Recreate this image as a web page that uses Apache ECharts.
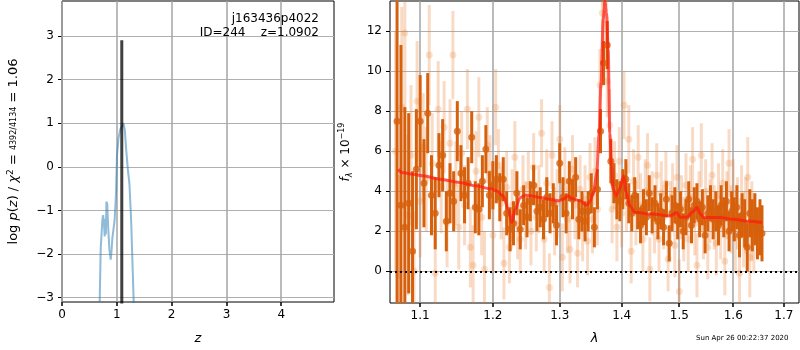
<!DOCTYPE html>
<html>
<head>
<meta charset="utf-8">
<script src="https://cdn.jsdelivr.net/npm/echarts@6.0.0/dist/echarts.min.js"></script>
<style>html,body{margin:0;padding:0;background:#fff}#main{width:800px;height:350px}</style>
</head>
<body>
<div id="main"></div>
<script>
// left panel: redshift probability
var pzZ = [0.687,0.706,0.736,0.750,0.765,0.778,0.790,0.800,0.810,0.825,
           0.840,0.865,0.888,0.905,0.918,0.960,0.985,1.003,1.030,1.060,
           1.100,1.120,1.145,1.170,1.200,1.230,1.260,1.285,1.307,1.320];
var pzLog = [-3.1,-1.87,-1.22,-1.11,-1.3,-1.6,-1.2,-1.55,-0.8,-0.85,
             -1.34,-1.9,-2.13,-1.9,-1.64,-1.22,-0.6,0.26,0.65,0.85,
             0.95,1.0,0.85,0.4,-0.05,-0.4,-1.2,-2.2,-3.08,-3.5];
var zBest = 1.0902;
var zMarkTop = 2.9;
var zTicks = [0, 1, 2, 3, 4];
var pzTicks = [-3, -2, -1, 0, 1, 2, 3];

// right panel: spectrum, dark beam
var darkWave = [1.070,1.075,1.080,1.085,1.090,1.095,1.100,1.105,1.110,1.115,
                1.120,1.125,1.130,1.135,1.140,1.145,1.150,1.155,1.160,1.165,
                1.170,1.175,1.180,1.185,1.190,1.195,1.200,1.205,1.210,1.215,
                1.220,1.225,1.230,1.235,1.240,1.245,1.250,1.255,1.260,1.265,
                1.270,1.275,1.280,1.285,1.290,1.295,1.300,1.305,1.310,1.315,
                1.320,1.325,1.330,1.335,1.340,1.345,1.350,1.355,1.360,1.365,
                1.370,1.376,1.382,1.387,1.392,1.397,1.402,1.407,1.412,1.417,
                1.422,1.427,1.432,1.437,1.442,1.447,1.452,1.457,1.462,1.467,
                1.472,1.477,1.482,1.487,1.492,1.497,1.502,1.507,1.512,1.517,
                1.522,1.527,1.532,1.537,1.542,1.547,1.552,1.557,1.562,1.567,
                1.572,1.577,1.582,1.587,1.592,1.597,1.602,1.607,1.612,1.617,
                1.622,1.627,1.632,1.637,1.642,1.647,1.652,1.656];
var darkFlux = [7.5,3.3,2.2,3.4,1.0,5.1,7.5,4.4,7.9,3.8,
                2.9,5.3,5.8,2.5,3.9,3.5,7.0,4.9,3.8,4.4,
                6.7,3.2,3.1,4.5,6.1,3.8,4.3,4.6,3.7,4.6,
                2.9,2.1,2.4,3.9,2.1,3.3,2.7,3.5,4.3,3.0,
                3.2,2.6,3.7,2.9,3.4,2.3,5.4,3.7,2.9,4.5,
                3.6,4.7,2.6,3.0,2.5,3.0,3.9,2.2,4.1,7.0,
                10.4,11.3,5.5,4.4,3.6,3.5,4.1,4.6,3.4,2.9,
                3.8,3.0,2.3,3.2,2.7,3.9,2.8,3.4,2.5,3.0,
                2.2,3.6,1.4,2.9,3.3,2.5,3.1,2.0,2.7,3.6,
                2.3,3.3,3.5,2.6,3.2,1.8,2.9,3.4,2.6,3.0,
                2.3,3.3,2.7,3.5,2.0,3.0,2.6,3.2,1.8,2.8,
                2.4,1.2,2.9,2.3,2.6,1.9,2.2,1.9];
var darkErr = [10,8,6,4.5,4,3,2.3,2.2,2,2,
               1.8,1.6,1.8,1.5,1.5,1.5,1.5,1.4,1.4,1.3,
               1.3,1.3,1.3,1.3,1.2,1.2,1.2,1.2,1.2,1.1,
               1.1,1.1,1.1,1.1,1.0,1.0,1.0,1.0,1.0,1.0,
               1.0,1.0,1.0,1.0,1.0,1.0,1.0,1.0,1.0,1.0,
               1.0,1.0,1.0,1.0,1.0,1.0,1.0,1.0,1.0,1.1,
               1.1,1.2,1.1,1.0,1.0,1.0,1.0,1.0,1.0,0.9,
               0.9,0.9,0.9,0.9,0.9,0.9,0.9,0.9,0.9,0.9,
               0.9,0.9,0.9,0.9,0.9,0.9,0.9,0.9,0.9,0.9,
               0.9,0.9,0.9,0.9,0.9,0.9,0.9,0.9,1.0,1.0,
               1.0,1.0,1.0,1.0,1.0,1.0,1.1,1.1,1.1,1.1,
               1.2,1.2,1.2,1.3,1.3,1.3,1.4,1.4];

// right panel: spectrum, light beam
var lightWave = [1.068,1.072,1.076,1.080,1.084,1.088,1.092,1.096,1.100,1.104,
                 1.108,1.112,1.116,1.120,1.124,1.128,1.132,1.136,1.140,1.144,
                 1.148,1.152,1.156,1.160,1.164,1.168,1.172,1.176,1.180,1.184,
                 1.188,1.192,1.196,1.200,1.204,1.208,1.212,1.216,1.220,1.224,
                 1.228,1.232,1.236,1.240,1.244,1.248,1.252,1.256,1.260,1.264,
                 1.268,1.272,1.276,1.280,1.284,1.288,1.292,1.296,1.300,1.304,
                 1.308,1.312,1.316,1.320,1.324,1.328,1.332,1.336,1.340,1.344,
                 1.348,1.352,1.356,1.360,1.364,1.368,1.372,1.376,1.380,1.384,
                 1.388,1.392,1.396,1.400,1.404,1.408,1.412,1.416,1.420,1.424,
                 1.428,1.432,1.436,1.440,1.444,1.448,1.452,1.456,1.460,1.464,
                 1.468,1.472,1.476,1.480,1.484,1.488,1.492,1.496,1.500,1.504,
                 1.508,1.512,1.516,1.520,1.524,1.528,1.532,1.536,1.540,1.544,
                 1.548,1.552,1.556,1.560,1.564,1.568,1.572,1.576,1.580,1.584,
                 1.588,1.592,1.596,1.600,1.604,1.608,1.612,1.616,1.620,1.624,
                 1.628,1.632,1.636,1.640];
var lightFlux = [6.0,-0.2,8.2,11.9,2.8,5.8,0.0,8.5,3.5,6.2,
                 4.6,10.8,5.4,-0.1,8.1,4.2,7.2,2.4,6.4,10.8,
                 4.4,2.2,5.9,3.3,8.1,1.2,0.3,5.0,7.7,2.7,
                 0.1,6.3,4.9,1.8,8.2,5.3,3.4,0.4,4.2,1.2,
                 3.3,5.7,2.3,1.6,4.1,2.8,4.3,2.0,5.2,2.7,
                 3.6,6.9,1.6,4.4,-0.8,5.8,2.5,3.4,6.6,0.7,
                 4.5,2.6,1.1,5.1,3.3,0.9,4.1,2.2,3.6,1.5,
                 4.7,2.6,5.0,3.1,9.3,12.9,13.4,9.5,7.3,3.1,
                 4.8,2.2,5.5,2.9,8.3,3.7,6.6,1.0,4.5,2.9,
                 5.7,3.3,1.6,4.0,5.3,0.1,3.4,2.5,4.8,1.6,
                 3.9,2.7,4.4,0.6,2.9,3.8,1.3,4.7,-1.0,3.2,
                 2.1,4.3,1.6,3.7,5.6,2.4,0.3,3.4,5.8,2.2,
                 4.0,1.2,3.0,4.8,2.7,1.4,3.8,2.2,4.4,0.5,
                 3.3,5.4,2.6,3.9,1.7,2.9,-0.1,3.5,2.1,2.8,
                 4.7,0.7,2.5,1.9];
var lightErr = [6,5,5,4,4,3.5,3,3,2.8,2.7,
                2.6,2.5,2.5,2.4,2.4,2.3,2.3,2.2,2.2,2.2,
                2.1,2.1,2.1,2.0,2.0,2.0,2.0,2.0,2.0,1.9,
                1.9,1.9,1.9,1.9,1.9,1.8,1.8,1.8,1.8,1.8,
                1.8,1.8,1.7,1.7,1.7,1.7,1.7,1.7,1.7,1.7,
                1.7,1.7,1.7,1.7,1.7,1.7,1.7,1.7,1.7,1.7,
                1.7,1.7,1.7,1.7,1.7,1.7,1.7,1.7,1.7,1.7,
                1.7,1.7,1.7,1.8,1.8,1.9,1.9,1.8,1.8,1.7,
                1.7,1.7,1.7,1.7,1.7,1.7,1.7,1.6,1.6,1.6,
                1.6,1.6,1.6,1.6,1.6,1.6,1.6,1.6,1.6,1.6,
                1.6,1.6,1.6,1.6,1.6,1.6,1.6,1.6,1.6,1.6,
                1.6,1.6,1.6,1.6,1.6,1.6,1.6,1.6,1.6,1.6,
                1.6,1.6,1.6,1.6,1.6,1.6,1.6,1.6,1.7,1.7,
                1.7,1.7,1.7,1.7,1.8,1.8,1.8,1.8,1.9,1.9,
                2.0,2.0,2.0,2.0];

// best-fit model
var modelWave = [1.0715,1.076,1.090,1.1036,1.1266,1.1537,1.1748,1.1978,1.205,1.215,
                 1.2225,1.2276,1.2325,1.240,1.2475,1.255,1.270,1.285,1.2975,1.3053,
                 1.3133,1.3188,1.3321,1.3429,1.3480,1.3535,1.3589,1.3626,1.3658,1.3695,
                 1.3722,1.3750,1.3775,1.3803,1.3830,1.3856,1.3910,1.3963,1.4035,1.4077,
                 1.4135,1.4223,1.4516,1.4837,1.4954,1.5012,1.5136,1.5259,1.5322,1.5383,
                 1.5444,1.5753,1.60,1.63,1.656];
var modelFlux = [5.1,4.94,4.85,4.77,4.6,4.44,4.27,4.12,4.02,3.77,
                 3.1,2.44,3.1,3.69,3.8,3.77,3.69,3.6,3.52,3.6,
                 3.77,3.64,3.52,3.3,3.5,3.94,4.9,6.9,9.4,12.6,
                 13.5,12.9,11.1,6.9,5.27,4.1,3.77,4.1,4.77,3.94,
                 3.27,2.95,2.86,2.77,2.94,2.7,2.7,3.0,3.2,2.86,
                 2.69,2.69,2.6,2.5,2.44];
var lamTicks = [1.1, 1.2, 1.3, 1.4, 1.5, 1.6, 1.7];
var fluxTicks = [0, 2, 4, 6, 8, 10, 12];

var FONT = 'DejaVu Sans';
var DARK = 'rgb(214,96,12)';
var LIGHT = 'rgba(232,125,45,0.28)';
var GRID_GRAY = '#b0b0b0';

function zip3(a, b, c) {
    return a.map(function (v, i) { return [v, b[i], c[i]]; });
}
function zip2(a, b) {
    return a.map(function (v, i) { return [v, b[i]]; });
}
function minusFmt(v) {
    return (v < 0 ? '\u2212' : '') + Math.abs(v);
}
function errorBar(color, width) {
    return function (params, api) {
        var x = api.value(0), y = api.value(1), e = api.value(2);
        var lo = api.coord([x, y - e]);
        var hi = api.coord([x, y + e]);
        return {
            type: 'line',
            shape: { x1: lo[0], y1: lo[1], x2: hi[0], y2: hi[1] },
            style: { stroke: color, lineWidth: width }
        };
    };
}
// vertical grid line plus outward tick at each x tick value
// (slightly wider than 1px, like matplotlib's antialiased grid)
function xGridItem(params, api) {
    var cs = params.coordSys;
    var px = Math.round(api.coord([api.value(0), api.value(1)])[0]);
    var bottom = cs.y + cs.height;
    return {
        type: 'group',
        children: [
            { type: 'line', shape: { x1: px, y1: cs.y, x2: px, y2: bottom }, style: { stroke: '#a4a4a4', lineWidth: 1.5 } },
            { type: 'line', shape: { x1: px, y1: bottom, x2: px, y2: bottom + 4 }, style: { stroke: '#000', lineWidth: 1.5 } }
        ]
    };
}
function xGrid(i, values, yRef) {
    return {
        name: 'xgrid' + i, type: 'custom', xAxisIndex: i, yAxisIndex: i, silent: true,
        data: values.map(function (v) { return [v, yRef]; }),
        encode: { x: 0, y: 1 }, renderItem: xGridItem, clip: false, z: 1
    };
}
function gridLine() {
    return { show: true, lineStyle: { color: GRID_GRAY, width: 1 } };
}
function tickStyle(values) {
    return { show: true, inside: false, length: 4, customValues: values, lineStyle: { color: '#000', width: 1 } };
}
function labelStyle(values, margin, fmt) {
    return { customValues: values, margin: margin, formatter: fmt, color: '#000', fontFamily: FONT, fontSize: 12 };
}

var myChart = echarts.init(document.getElementById('main'));

var option = {
    animation: false,
    backgroundColor: '#fff',
    grid: [
        { left: 62, top: 1, width: 272, height: 303, show: true, borderColor: '#000', borderWidth: 1, backgroundColor: 'transparent' },
        { left: 390, top: 1, width: 409, height: 303, show: true, borderColor: '#000', borderWidth: 1, backgroundColor: 'transparent' }
    ],
    xAxis: [
        {
            type: 'value', gridIndex: 0, min: 0, max: 4.96, position: 'bottom',
            name: 'z', nameLocation: 'middle', nameGap: 30,
            nameTextStyle: { fontFamily: FONT, fontSize: 13, fontStyle: 'italic', color: '#000' },
            axisLine: { show: false, onZero: false },
            axisTick: { show: false },
            axisLabel: labelStyle(zTicks, 7, minusFmt),
            splitLine: { show: false }
        },
        {
            type: 'log', logBase: 10, gridIndex: 1, min: 1.061, max: 1.731, position: 'bottom',
            name: 'λ', nameLocation: 'middle', nameGap: 29,
            nameTextStyle: { fontFamily: FONT, fontSize: 13, fontStyle: 'italic', color: '#000' },
            axisLine: { show: false, onZero: false },
            axisTick: { show: false },
            axisLabel: labelStyle(lamTicks, 7, function (v) { return v.toFixed(1); }),
            splitLine: { show: false },
            minorTick: { show: false },
            minorSplitLine: { show: false }
        }
    ],
    yAxis: [
        {
            type: 'value', gridIndex: 0, min: -3.1, max: 3.8, position: 'left',
            name: 'log {i|p}({i|z}) / {i|χ}{sup|2} = {fr|4392/4134} = 1.06',
            nameLocation: 'middle', nameGap: 40,
            nameTextStyle: {
                fontFamily: FONT, fontSize: 13, color: '#000', lineHeight: 16,
                rich: {
                    i: { fontFamily: FONT, fontSize: 13, fontStyle: 'italic', color: '#000' },
                    sup: { fontFamily: FONT, fontSize: 9, color: '#000', verticalAlign: 'top', lineHeight: 16 },
                    fr: { fontFamily: FONT, fontSize: 8, color: '#000' }
                }
            },
            axisLine: { show: false, onZero: false },
            axisTick: tickStyle(pzTicks),
            axisLabel: labelStyle(pzTicks, 8, minusFmt),
            splitLine: gridLine()
        },
        {
            type: 'value', gridIndex: 1, min: -1.58, max: 13.5, position: 'left',
            name: '{i|f}{sub|λ} × 10{sup|\u221219}',
            nameLocation: 'middle', nameGap: 36,
            nameTextStyle: {
                fontFamily: FONT, fontSize: 12, color: '#000', lineHeight: 16,
                rich: {
                    i: { fontFamily: FONT, fontSize: 12, fontStyle: 'italic', color: '#000' },
                    sub: { fontFamily: FONT, fontSize: 8, fontStyle: 'italic', color: '#000', verticalAlign: 'bottom', lineHeight: 14 },
                    sup: { fontFamily: FONT, fontSize: 8, color: '#000', verticalAlign: 'top', lineHeight: 16 }
                }
            },
            axisLine: { show: false, onZero: false },
            axisTick: tickStyle(fluxTicks),
            axisLabel: labelStyle(fluxTicks, 8, minusFmt),
            splitLine: gridLine()
        }
    ],
    graphic: [
        { type: 'text', right: 800 - 319, top: 13, z: 10, style: { text: 'j163436p4022', font: '12px "DejaVu Sans"', fill: '#000', textAlign: 'right' } },
        { type: 'text', right: 800 - 319, top: 27, z: 10, style: { text: 'ID=244    z=1.0902', font: '12px "DejaVu Sans"', fill: '#000', textAlign: 'right' } },
        { type: 'text', left: 696, top: 335, style: { text: 'Sun Apr 26 00:22:37 2020', font: '7px "DejaVu Sans"', fill: '#000' } }
    ],
    series: [
        xGrid(0, zTicks, 0),
        xGrid(1, lamTicks, 0),
        {
            name: 'p(z)', type: 'line', xAxisIndex: 0, yAxisIndex: 0,
            data: zip2(pzZ, pzLog), symbol: 'none', smooth: false,
            lineStyle: { color: 'rgba(31,119,180,0.5)', width: 2 }, z: 3
        },
        {
            name: 'zbest', type: 'line', xAxisIndex: 0, yAxisIndex: 0,
            data: [[zBest, -3.2], [zBest, zMarkTop]], symbol: 'none',
            lineStyle: { color: 'rgba(0,0,0,0.75)', width: 3 }, z: 4
        },
        {
            name: 'lightErr', type: 'custom', xAxisIndex: 1, yAxisIndex: 1,
            data: zip3(lightWave, lightFlux, lightErr), renderItem: errorBar(LIGHT, 3),
            encode: { x: 0, y: 1 }, clip: true, z: 2
        },
        {
            name: 'light', type: 'scatter', xAxisIndex: 1, yAxisIndex: 1,
            data: zip2(lightWave, lightFlux), symbolSize: 7,
            itemStyle: { color: LIGHT }, z: 2
        },
        {
            name: 'darkErr', type: 'custom', xAxisIndex: 1, yAxisIndex: 1,
            data: zip3(darkWave, darkFlux, darkErr), renderItem: errorBar(DARK, 3),
            encode: { x: 0, y: 1 }, clip: true, z: 3
        },
        {
            name: 'dark', type: 'scatter', xAxisIndex: 1, yAxisIndex: 1,
            data: zip2(darkWave, darkFlux), symbolSize: 7,
            itemStyle: { color: DARK }, z: 3
        },
        {
            name: 'model', type: 'line', xAxisIndex: 1, yAxisIndex: 1,
            data: zip2(modelWave, modelFlux), symbol: 'none', smooth: 0.3, smoothMonotone: 'x',
            lineStyle: { color: 'rgba(255,25,15,0.7)', width: 3 }, z: 5,
            markLine: {
                silent: true, symbol: 'none', label: { show: false },
                lineStyle: { color: '#000', type: [2, 3], width: 2 },
                data: [{ yAxis: 0 }]
            }
        }
    ]
};

myChart.setOption(option);
</script>
</body>
</html>
